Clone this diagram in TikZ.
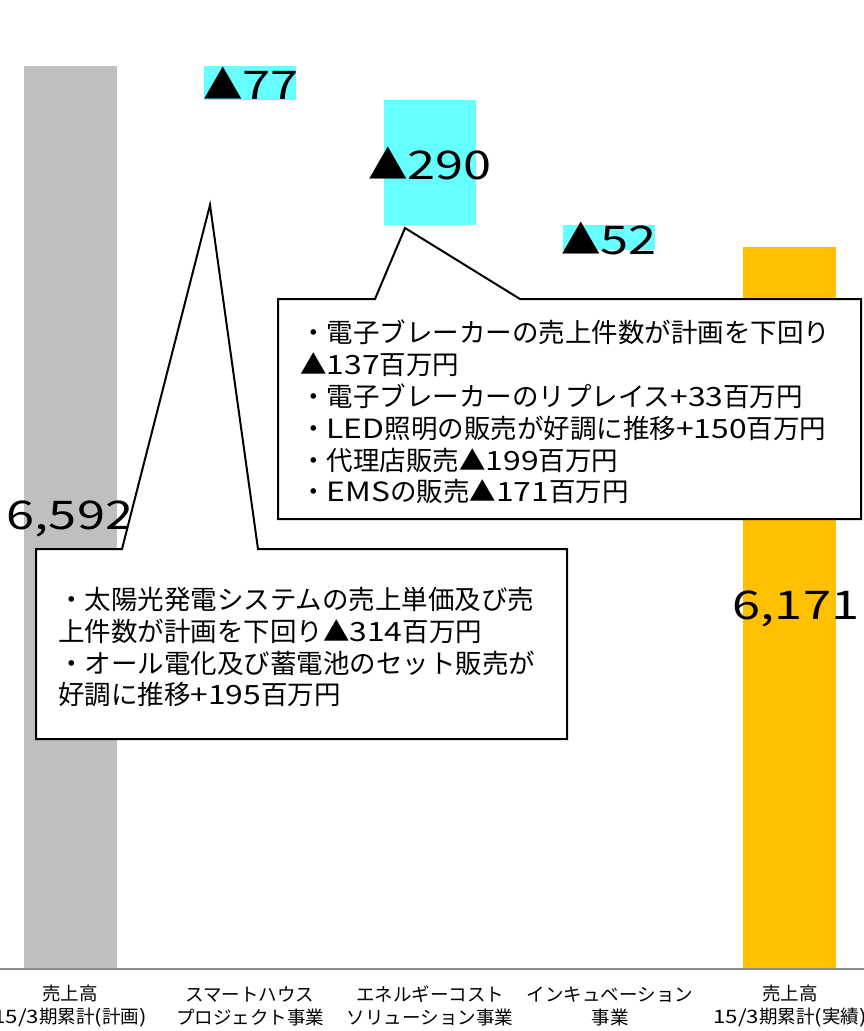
\documentclass[tikz,border=0pt]{standalone}
\usepackage{fontspec}
\setmainfont{Noto Sans CJK JP}
\newfontfamily\latfont[FakeStretch=1.28]{Noto Sans CJK JP}
\newfontfamily\latsmall[FakeStretch=1.2]{Noto Sans CJK JP}
\newcommand{\wlat}[1]{{\latfont #1}}
\newcommand{\slat}[1]{{\latsmall #1}}
\definecolor{barGray}{HTML}{BFBFBF}
\definecolor{barOrange}{HTML}{FFC000}
\definecolor{deltaCyan}{HTML}{66FFFF}
\definecolor{axisGray}{HTML}{8C8C8C}
\begin{document}
\begin{tikzpicture}[x=1pt,y=-1pt,
  bignum/.style={font=\fontsize{39.5}{42}\selectfont, inner sep=0pt},
  calltext/.style={font=\fontsize{26.5}{31.8}\selectfont, align=left, inner sep=0pt, anchor=north west},
  callshape/.style={draw=black, line width=2pt, fill=white, line join=miter},
  catlabel/.style={font=\fontsize{18.5}{23}\selectfont, align=center, inner sep=0pt}]
\useasboundingbox (0,0) rectangle (864,1031);
\fill[white] (0,0) rectangle (864,1031);
% bars
\fill[barGray] (24,66) rectangle (117,970);
\fill[barOrange] (743,247) rectangle (836,970);
% delta boxes
\fill[deltaCyan] (204,66) rectangle (296,100);
\fill[deltaCyan] (384,100) rectangle (476,225);
\fill[deltaCyan] (563,225) rectangle (655,250);
\node[bignum] (d77) at (251,83) {▲\wlat{77}};
\node[bignum] (d290) at (430,163) {▲\wlat{290}};
\node[bignum] (d52) at (609,238) {▲\wlat{52}};
% axis
\draw[axisGray, line width=2pt] (0,969) -- (864,969);
% values
\node[bignum] (v1) at (70,519) {\wlat{6,592}};
\node[bignum] (v2) at (796,609) {\wlat{6,171}};
% callout 2
\draw[callshape] (278,299) -- (375,299) -- (405,228) -- (520,299) -- (861,299) -- (861,519) -- (278,519) -- cycle;
\node[calltext] (t2) at (300,320) {・電子ブレーカーの売上件数が計画を下回り\\▲\slat{137}百万円\\・電子ブレーカーのリプレイス\slat{+33}百万円\\・\slat{LED}照明の販売が好調に推移\slat{+150}百万円\\・代理店販売▲\slat{199}百万円\\・\slat{EMS}の販売▲\slat{171}百万円};
% callout 1
\draw[callshape] (36,549) -- (122,549) -- (210,205) -- (258,549) -- (567,549) -- (567,739) -- (36,739) -- cycle;
\node[calltext] (t1) at (58,587) {・太陽光発電システムの売上単価及び売\\上件数が計画を下回り▲\slat{314}百万円\\・オール電化及び蓄電池のセット販売が\\好調に推移\slat{+195}百万円};
% category labels
\node[catlabel] (c1) at (70,1006) {売上高\\\slat{15/3}期累計\slat{(}計画\slat{)}};
\node[catlabel] (c2) at (250,1006) {スマートハウス\\プロジェクト事業};
\node[catlabel] (c3) at (430,1006) {エネルギーコスト\\ソリューション事業};
\node[catlabel] (c4) at (610,1006) {インキュベーション\\事業};
\node[catlabel] (c5) at (790,1006) {売上高\\\slat{15/3}期累計\slat{(}実績\slat{)}};
\end{tikzpicture}
\end{document}
